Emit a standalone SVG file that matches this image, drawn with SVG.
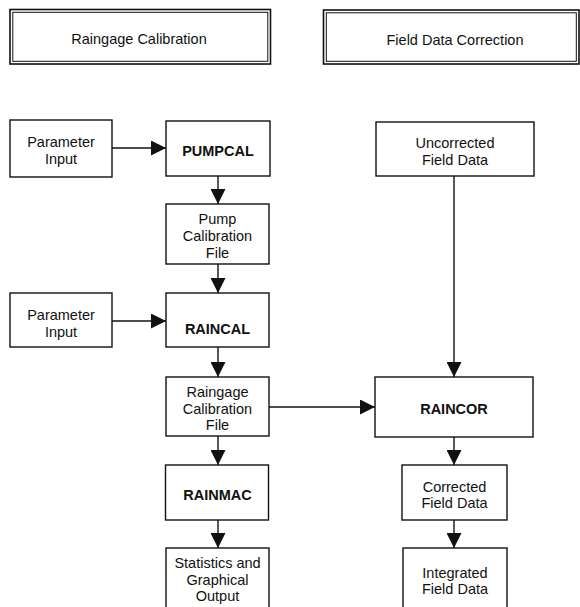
<svg xmlns="http://www.w3.org/2000/svg" width="580" height="607" viewBox="0 0 580 607">
<style>
  .box { fill: #fff; stroke: #111; stroke-width: 1.4; }
  .hdr-o { fill: #fff; stroke: #111; stroke-width: 1.6; }
  .hdr-i { fill: none; stroke: #111; stroke-width: 1; }
  .t { font-family: "Liberation Sans", Arial, sans-serif; font-size: 14.5px; fill: #111; text-anchor: middle; }
  .b { font-weight: bold; }
  .con line { stroke: #111; stroke-width: 1.4; marker-end: url(#ah); }
</style>
<defs>
  <marker id="ah" markerUnits="userSpaceOnUse" markerWidth="15" markerHeight="15" refX="15" refY="7.5" orient="auto">
    <path d="M0,0 L15,7.5 L0,15 z" fill="#111"/>
  </marker>
</defs>
<rect width="580" height="607" fill="#fff"/>

<g id="hdr-raingage">
  <rect class="hdr-o" x="10" y="9.5" width="260.5" height="54.5"/>
  <rect class="hdr-i" x="12.8" y="12.3" width="255" height="49"/>
  <text class="t" x="139" y="44">Raingage Calibration</text>
</g>
<g id="hdr-field">
  <rect class="hdr-o" x="323.5" y="10" width="255.5" height="54"/>
  <rect class="hdr-i" x="326.3" y="12.8" width="250" height="48.5"/>
  <text class="t" x="455" y="45">Field Data Correction</text>
</g>

<g class="con">
  <line x1="112" y1="148" x2="166" y2="148"/>
  <line x1="218" y1="176" x2="218" y2="204"/>
  <line x1="218" y1="264" x2="218" y2="293"/>
  <line x1="112" y1="321" x2="166" y2="321"/>
  <line x1="218" y1="347" x2="218" y2="377"/>
  <line x1="269" y1="407" x2="375" y2="407"/>
  <line x1="218" y1="436" x2="218" y2="465"/>
  <line x1="218" y1="520" x2="218" y2="548"/>
  <line x1="454" y1="176" x2="454" y2="377"/>
  <line x1="454" y1="437" x2="454" y2="465"/>
  <line x1="454" y1="520" x2="454" y2="548"/>
</g>

<g id="param1">
  <rect class="box" x="10" y="120" width="102" height="57"/>
  <text class="t" x="61" y="147">Parameter</text>
  <text class="t" x="61" y="163.5">Input</text>
</g>
<g id="pumpcal">
  <rect class="box" x="166" y="121" width="104" height="55"/>
  <text class="t b" x="218" y="156">PUMPCAL</text>
</g>
<g id="pumpfile">
  <rect class="box" x="166" y="204" width="103" height="60"/>
  <text class="t" x="217.5" y="224">Pump</text>
  <text class="t" x="217.5" y="241">Calibration</text>
  <text class="t" x="217.5" y="258">File</text>
</g>
<g id="param2">
  <rect class="box" x="10" y="293" width="102" height="54"/>
  <text class="t" x="61" y="320">Parameter</text>
  <text class="t" x="61" y="336.5">Input</text>
</g>
<g id="raincal">
  <rect class="box" x="166" y="293" width="103" height="54"/>
  <text class="t b" x="217.5" y="334">RAINCAL</text>
</g>
<g id="raingagefile">
  <rect class="box" x="166" y="377" width="103" height="59"/>
  <text class="t" x="217.5" y="397">Raingage</text>
  <text class="t" x="217.5" y="413.5">Calibration</text>
  <text class="t" x="217.5" y="430">File</text>
</g>
<g id="rainmac">
  <rect class="box" x="165.5" y="465" width="103" height="55"/>
  <text class="t b" x="217.5" y="500">RAINMAC</text>
</g>
<g id="stats">
  <rect class="box" x="166" y="548" width="103" height="70"/>
  <text class="t" x="217.5" y="568">Statistics and</text>
  <text class="t" x="217.5" y="584.5">Graphical</text>
  <text class="t" x="217.5" y="601">Output</text>
</g>
<g id="uncorrected">
  <rect class="box" x="376" y="122" width="158" height="54"/>
  <text class="t" x="455" y="148">Uncorrected</text>
  <text class="t" x="455" y="164.5">Field Data</text>
</g>
<g id="raincor">
  <rect class="box" x="375" y="377" width="158" height="60"/>
  <text class="t b" x="454" y="414">RAINCOR</text>
</g>
<g id="corrected">
  <rect class="box" x="402" y="465" width="105" height="55"/>
  <text class="t" x="454.5" y="492">Corrected</text>
  <text class="t" x="454.5" y="508">Field Data</text>
</g>
<g id="integrated">
  <rect class="box" x="403" y="548" width="104" height="70"/>
  <text class="t" x="455" y="578">Integrated</text>
  <text class="t" x="455" y="594">Field Data</text>
</g>
</svg>
